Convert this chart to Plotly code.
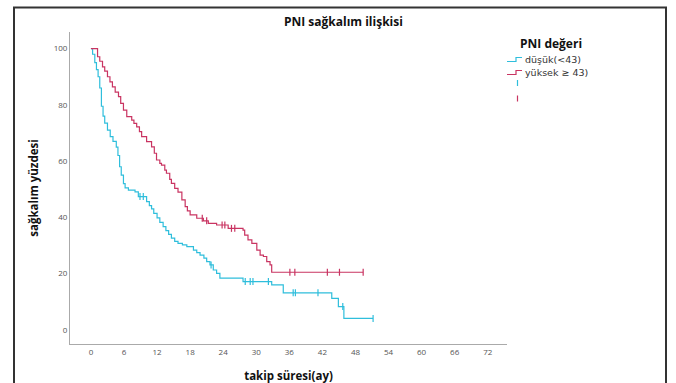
import plotly.graph_objects as go

# ---- data ----
low_t = [0, 0.3, 0.7, 1.0, 1.3, 1.6, 1.9, 2.2, 2.5, 3.0, 3.5, 4.0, 4.6, 4.9, 5.2, 5.5, 5.9, 6.2, 6.8, 8.0, 8.6,
         10.1, 10.6, 11.0, 11.4, 12.0, 12.5, 13.1, 13.6, 14.1, 14.6, 15.2, 15.8, 16.6, 17.4, 18.6, 19.2, 19.8,
         20.5, 21.0, 21.6, 22.2, 22.8, 23.4, 27.6, 32.8, 34.9, 43.7, 44.9, 45.9, 51.2]
low_v = [100, 98, 95, 92.5, 90, 86, 79.5, 76, 73.5, 71, 68.7, 67, 65, 62, 58, 55, 52, 50.5, 49.7, 49.1, 47.4,
         45.6, 44.2, 43, 41.4, 39.8, 38.2, 36.7, 35.3, 34, 32.6, 31.5, 30.8, 30.2, 29.6, 28.4, 27.5, 26.6,
         25.5, 24.3, 23.1, 21.3, 20.1, 18.4, 17.2, 16.0, 13.2, 11.2, 8.3, 4.1, 4.1]

high_t = [0, 1.2, 1.6, 2.1, 2.5, 3.0, 3.45, 3.9, 4.4, 5.0, 5.4, 5.9, 6.5, 7.4, 7.8, 8.3, 8.8, 9.2, 10.1, 11.0,
          11.5, 11.9, 12.5, 12.8, 13.4, 13.7, 14.3, 14.6, 15.2, 15.8, 16.5, 17.1, 17.5, 18.0, 19.2, 20.4, 21.3,
          22.8, 24.9, 27.6, 27.9, 28.5, 29.2, 30.1, 30.7, 31.3, 31.9, 32.5, 32.8, 49.4]
high_v = [100, 97.1, 95.5, 93.5, 92, 90, 88.2, 86.4, 84.5, 82.9, 80.5, 78.1, 75.8, 74.6, 73.4, 72.2, 70.5, 68.7,
          66.9, 65.1, 62.8, 60.4, 59.2, 58.6, 56.8, 55.7, 53.5, 52.1, 50.3, 49.0, 46.2, 43.8, 42.3, 40.9, 39.7,
          38.8, 37.9, 37.3, 36.1, 35.5, 33.7, 32.0, 30.8, 28.4, 26.6, 26.1, 24.3, 23.1, 20.5, 20.5]

low_cens = [8.9, 9.5, 21.8, 28.0, 28.9, 29.4, 32.2, 36.7, 37.1, 41.2, 45.7, 51.2]
high_cens = [20.2, 21.0, 23.8, 24.3, 25.5, 26.1, 36.1, 37.0, 42.9, 45.1, 49.4]

x_ticks = list(range(0, 73, 6))
y_ticks = [0, 20, 40, 60, 80, 100]

names = ["düşük(<43)", "yüksek ≥ 43)"]
colors = ["#2fbedc", "#c93462"]

# plot area geometry (pixels) used to place the hand-drawn legend
W, H = 676, 383
ML, MR, MT, MB = 70, 169, 32, 39
PW, PH = W - ML - MR, H - MT - MB


def px(x):
    return (x - ML) / PW


def py(y):
    return (H - MB - y) / PH


def step_value(ts, vs, t):
    val = vs[0]
    for ti, vi in zip(ts, vs):
        if ti <= t:
            val = vi
    return val


fig = go.Figure()
series = [(low_t, low_v, low_cens), (high_t, high_v, high_cens)]
for (ts, vs, cs), nm, col in zip(series, names, colors):
    fig.add_trace(go.Scatter(x=ts, y=vs, mode="lines", line=dict(color=col, width=1.2, shape="hv"),
                             name=nm, showlegend=False))
for (ts, vs, cs), nm, col in zip(series, names, colors):
    fig.add_trace(go.Scatter(x=cs, y=[step_value(ts, vs, c) for c in cs], mode="markers",
                             marker=dict(symbol="line-ns", size=5, line=dict(color=col, width=1.2)),
                             name=nm, showlegend=False))

# hand-drawn legend (SPSS style)
shapes = [dict(type="rect", xref="paper", yref="paper", x0=px(14), x1=px(666), y0=py(395), y1=py(7.5),
               line=dict(color="#333", width=2), fillcolor="rgba(0,0,0,0)", layer="below")]
annotations = [dict(text="<b>PNI değeri</b>", xref="paper", yref="paper", x=px(551), y=py(43),
                    xanchor="center", yanchor="middle", showarrow=False, font=dict(size=12, color="#111"))]
rows = [59.5, 72.5]
for i, (nm, col) in enumerate(zip(names, colors)):
    yc = rows[i]
    path = "M {} {} L {} {} L {} {} L {} {}".format(px(507), py(yc + 2), px(516), py(yc + 2),
                                                  px(516), py(yc - 2), px(522), py(yc - 2))
    shapes.append(dict(type="path", xref="paper", yref="paper", path=path, line=dict(color=col, width=1.2)))
    annotations.append(dict(text=nm, xref="paper", yref="paper", x=px(523), y=py(yc), xanchor="left",
                            yanchor="middle", showarrow=False,
                            font=dict(family="DejaVu Sans, sans-serif", size=9.5, color="#333")))
    tick_y = [83, 98.5][i]
    shapes.append(dict(type="line", xref="paper", yref="paper", x0=px(517.5), x1=px(517.5),
                       y0=py(tick_y - 3), y1=py(tick_y + 3), line=dict(color=col, width=1.2)))

fig.update_layout(
    width=W, height=H,
    margin=dict(l=ML, r=MR, t=MT, b=MB, autoexpand=False),
    paper_bgcolor="white", plot_bgcolor="white",
    showlegend=False,
    font=dict(family="Open Sans, Lato, sans-serif", color="#222"),
    title=dict(text="<b>PNI sağkalım ilişkisi</b>", x=0.508, xanchor="center", y=0.943, yanchor="middle",
               font=dict(size=12, color="#111")),
    xaxis=dict(range=[-3.8, 75.5], tickvals=x_ticks, showgrid=False, zeroline=False, showline=True,
               linecolor="#aaa", linewidth=1, ticks="", tickfont=dict(size=8, color="#555"), automargin=False,
               title=dict(text="<b>takip süresi(ay)</b>", font=dict(size=11.5, color="#111"), standoff=17)),
    yaxis=dict(range=[-5, 105.9], tickvals=y_ticks, showgrid=False, zeroline=False, showline=True,
               linecolor="#aaa", linewidth=1, ticks="", tickfont=dict(size=8, color="#555"), automargin=False,
               title=dict(text="<b>sağkalım yüzdesi</b>", font=dict(size=11.5, color="#111"), standoff=12)),
    shapes=shapes,
    annotations=annotations,
)

fig.write_html("out.html", config={"displayModeBar": False},
               post_script="document.body.style.margin='0';document.body.style.overflow='hidden';")
